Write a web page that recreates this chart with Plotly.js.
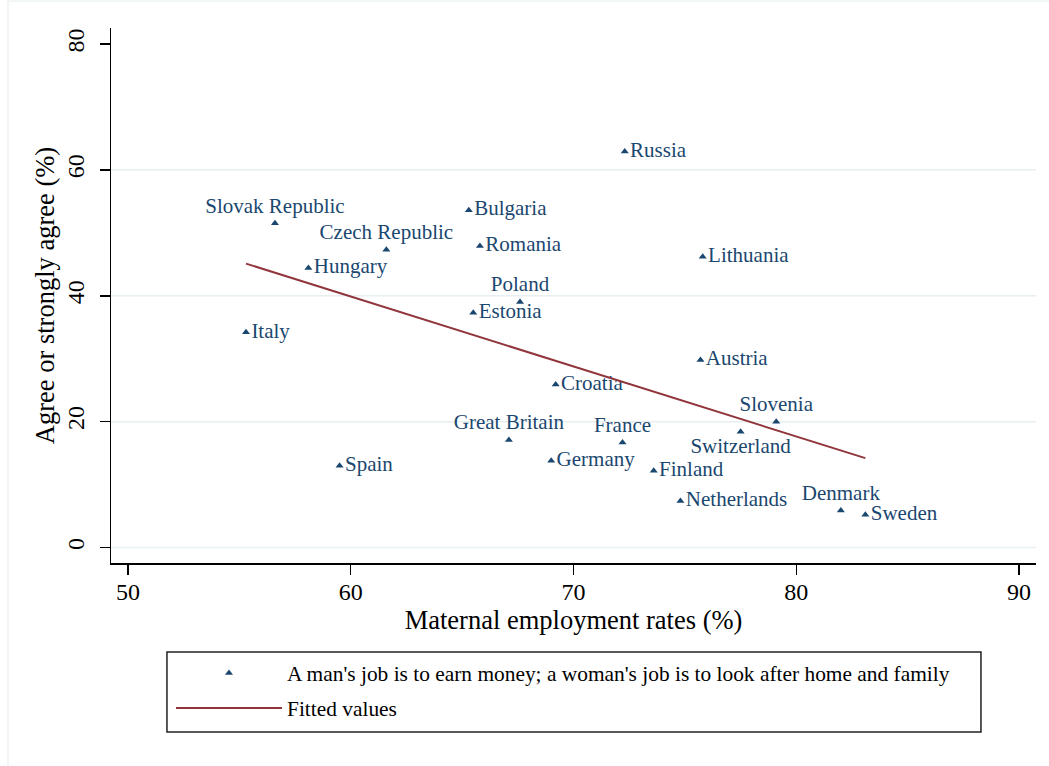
<!DOCTYPE html>
<html>
<head>
<meta charset="utf-8">
<script src="https://cdn.plot.ly/plotly-3.0.1.min.js"></script>
<style>
  html, body { margin: 0; padding: 0; background: #ffffff; }
  #chart { width: 1049px; height: 766px; }
</style>
</head>
<body>
<div id="chart"></div>
<script>
// ---- data ----
const countries = ["Russia","Bulgaria","Romania","Lithuania","Poland","Estonia","Slovak Republic","Czech Republic","Hungary","Italy","Slovenia","Switzerland","France","Finland","Netherlands","Denmark","Sweden","Croatia","Great Britain","Germany","Spain","Austria"];
const employment = [72.3, 65.3, 65.8, 75.8, 67.6, 65.5, 56.6, 61.6, 58.1, 55.3, 79.1, 77.5, 72.2, 73.6, 74.8, 82.0, 83.1, 69.2, 67.1, 69.0, 59.5, 75.7];
const agree = [62.9, 53.6, 47.9, 46.2, 39.0, 37.3, 51.5, 47.3, 44.4, 34.2, 20.0, 18.4, 16.7, 12.2, 7.4, 5.9, 5.2, 25.9, 17.1, 13.8, 13.0, 29.8];
const labelPos = ["middle right","middle right","middle right","middle right","top center","middle right","top center","top center","middle right","middle right","top center","bottom center","top center","middle right","middle right","top center","middle right","middle right","top center","middle right","middle right","middle right"];
const fitX = [55.3, 83.1];
const fitY = [45.1, 14.2];
const xTicks = [50, 60, 70, 80, 90];
const yTicks = [0, 20, 40, 60, 80];
const gridVals = [0, 20, 40, 60];
const seriesName = "A man's job is to earn money; a woman's job is to look after home and family";
const fitName = "Fitted values";

const navy = "#1a476f";
const maroon = "#90353b";
const gridColor = "#e8eff1";
const serif = "Liberation Serif, Times New Roman, serif";

const traces = [
  {
    x: employment, y: agree, text: countries,
    type: "scatter", mode: "markers+text",
    textposition: labelPos,
    textfont: { family: serif, size: 21, color: navy },
    marker: { symbol: "triangle-up", size: 7, color: navy },
    name: seriesName, cliponaxis: false, legend: "legend"
  },
  {
    x: fitX, y: fitY, type: "scatter", mode: "lines",
    line: { color: maroon, width: 2 },
    name: fitName, legend: "legend2"
  }
];

const shapes = gridVals.map(v => ({
  type: "line", xref: "paper", x0: 0, x1: 1, yref: "y", y0: v, y1: v,
  line: { color: gridColor, width: 1.5 }, layer: "below"
}));
// legend frame
shapes.push({ type: "rect", xref: "paper", yref: "paper", x0: 0.0605, x1: 0.9405, y0: -0.3159, y1: -0.1664,
  line: { color: "#222222", width: 1.5 }, fillcolor: "rgba(0,0,0,0)" });
// faint outer frame
shapes.push({ type: "rect", xref: "paper", yref: "paper", x0: (8 - 111) / 925, x1: 1.05, y0: -0.4, y1: (563 - 1) / 535,
  line: { color: "#e6eef0", width: 1.2 }, fillcolor: "rgba(0,0,0,0)" });

const legendCommon = {
  xanchor: "left", yanchor: "middle",
  bgcolor: "rgba(0,0,0,0)", borderwidth: 0,
  font: { family: serif, size: 21.4, color: "#000000" },
  itemwidth: 106
};

const layout = {
  width: 1049, height: 766,
  margin: { l: 111, r: 13, t: 28, b: 203 },
  paper_bgcolor: "#ffffff", plot_bgcolor: "#ffffff",
  font: { family: serif, color: "#000000" },
  showlegend: true,
  legend: Object.assign({ x: (171 - 111) / 925, y: (563 - 673) / 535 }, legendCommon),
  legend2: Object.assign({ x: (171 - 111) / 925, y: (563 - 708) / 535 }, legendCommon),
  xaxis: {
    range: [49.24, 90.76], tickvals: xTicks, ticktext: xTicks.map(String),
    showgrid: false, zeroline: false,
    showline: true, linecolor: "#000000", linewidth: 1.5,
    ticks: "outside", ticklen: 10, tickwidth: 1.5, tickcolor: "#000000",
    ticklabelstandoff: -3,
    tickfont: { family: serif, size: 24, color: "#000000" },
    title: { text: "Maternal employment rates (%)", font: { family: serif, size: 26.5, color: "#000000" }, standoff: 5 }
  },
  yaxis: {
    range: [-2.46, 82.54], tickvals: yTicks, ticktext: yTicks.map(String),
    showgrid: false, zeroline: false,
    showline: true, linecolor: "#000000", linewidth: 1.5,
    ticks: "outside", ticklen: 10, tickwidth: 1.5, tickcolor: "#000000",
    tickangle: -90, ticklabelstandoff: 6,
    tickfont: { family: serif, size: 24, color: "#000000" },
    title: { text: "Agree or strongly agree (%)", font: { family: serif, size: 26.5, color: "#000000" }, standoff: 0 }
  },
  shapes: shapes
};

Plotly.newPlot("chart", traces, layout, { displayModeBar: false, staticPlot: true });
</script>
</body>
</html>
